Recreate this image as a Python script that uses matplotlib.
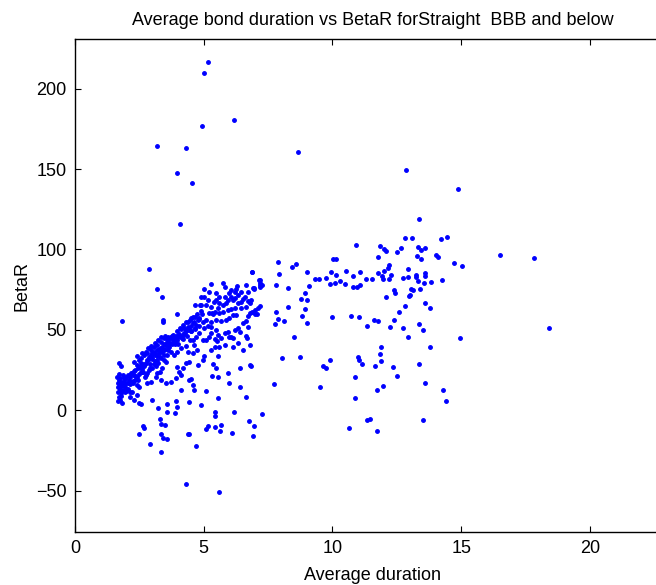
import numpy as np
import matplotlib.pyplot as plt

plt.rcParams['font.family'] = ['Liberation Sans', 'DejaVu Sans']

# dense band of short-duration bonds (duration, BetaR)
band_dur = [1.70, 1.79, 1.63, 1.70, 1.76, 1.74, 1.66, 1.83, 1.89, 1.96, 1.76, 1.67, 1.79, 1.70, 1.76, 1.83,
            1.87, 1.96, 2.02, 2.09, 2.00, 2.13, 2.22, 2.28, 2.15, 2.26, 2.35, 2.41, 2.48, 2.55, 2.61, 2.45,
            2.39, 2.31, 2.55, 2.68, 2.74, 2.81, 2.87, 2.94, 3.00, 3.07, 3.13, 3.20, 3.26, 3.33, 3.39, 3.46,
            3.53, 3.59, 3.65, 3.72, 3.79, 3.85, 3.92, 3.98, 4.05, 4.11, 4.18, 4.24, 4.31, 4.37, 4.44, 4.50,
            4.57, 4.63, 4.70, 4.76, 4.83, 4.66, 4.50, 4.40, 4.24, 4.11, 3.96, 3.79, 3.62, 3.46, 3.33, 3.20,
            3.07, 2.94, 2.81, 2.68, 2.57, 2.48, 2.41, 2.61, 2.74, 2.83, 2.96, 3.09, 3.22, 3.35, 3.49, 3.67,
            3.72, 3.59, 3.46, 3.35, 3.22, 3.13, 3.00, 2.87, 2.78, 2.70, 2.81, 2.94, 3.17, 3.30, 3.39, 3.53,
            3.85, 3.98, 4.11, 4.31, 4.45, 4.57, 4.70, 4.83, 3.96, 4.05, 4.18, 4.31, 4.44, 4.57, 4.74, 4.63,
            4.37, 4.11, 3.92, 3.72, 3.53, 3.33, 3.13, 2.39, 2.22, 2.48, 2.13, 1.96,
            1.72, 1.68, 1.80, 1.85, 1.90, 1.78, 1.69, 1.74, 1.82, 1.92, 2.05, 2.10, 2.20, 2.30, 2.35, 2.50,
            2.60, 2.65, 2.90, 3.00, 3.10, 3.20, 3.30, 3.45, 3.60, 3.75, 3.90, 4.00, 4.20, 4.35, 4.50, 4.65, 4.80,
            2.55, 2.62, 2.70, 2.76, 2.85, 2.92, 2.98, 3.05, 3.12, 3.18, 3.25, 3.30, 3.38, 3.44, 3.50, 3.56,
            3.62, 3.70, 3.78, 3.84, 3.90, 3.95, 4.02, 4.08, 4.14, 4.20, 4.26, 4.33, 4.40, 4.46, 4.52, 4.60,
            4.68, 4.75, 4.82, 4.88, 4.95, 2.00, 2.06, 2.12, 2.18, 2.24, 2.33, 2.44]
band_beta = [29.6, 27.5, 20.9, 18.8, 19.9, 16.7, 14.7, 15.6, 17.8, 19.2, 13.0, 11.5, 10.5, 8.5, 6.4, 4.7,
             12.6, 14.7, 16.7, 18.8, 20.9, 22.0, 23.3, 24.6, 20.5, 16.7, 18.8, 20.9, 22.5, 24.0, 25.4, 26.1,
             28.1, 30.2, 29.6, 27.5, 29.1, 31.2, 32.9, 34.3, 35.4, 36.4, 34.3, 37.5, 35.4, 38.5, 39.6, 37.5,
             40.5, 42.6, 44.5, 45.8, 43.7, 45.4, 46.1, 43.7, 47.4, 45.8, 46.7, 48.2, 49.9, 51.6, 50.3, 52.3,
             54.0, 55.1, 53.0, 56.1, 57.2, 57.8, 57.2, 55.1, 51.4, 50.3, 44.7, 46.7, 45.8, 44.7, 42.6, 40.5,
             39.6, 37.5, 35.8, 34.3, 32.3, 31.2, 33.8, 35.4, 36.4, 38.5, 39.9, 41.6, 43.7, 45.8, 46.1, 39.6,
             36.4, 34.3, 31.2, 32.3, 29.6, 27.5, 26.1, 25.0, 22.9, 20.9, 16.7, 17.8, 22.9, 24.0, 26.1, 30.2,
             34.3, 36.4, 38.5, 39.9, 43.7, 43.7, 45.8, 47.8, 27.1, 24.0, 26.1, 29.1, 30.2, 35.4, 37.5, 40.5,
             36.4, 22.0, 19.9, 17.8, 16.7, 18.8, 20.9, 15.6, 11.5, 14.7, 8.5, 11.5,
             22.7, 16.8, 14.9, 21.7, 15.8, 9.0, 6.0, 11.9, 17.8, 19.8, 12.9, 16.8, 17.8, 21.7, 24.7, 26.7,
             28.6, 23.7, 28.6, 31.6, 30.6, 33.6, 36.5, 34.5, 37.5, 41.4, 42.4, 41.4, 44.4, 46.3, 49.3, 50.3, 52.2,
             27.0, 24.0, 29.0, 22.0, 31.0, 26.0, 33.0, 29.0, 35.0, 31.0, 38.0, 33.0, 36.0, 41.0, 38.0, 44.0,
             40.0, 42.0, 46.0, 43.0, 41.0, 49.0, 46.0, 51.0, 45.0, 53.0, 48.0, 55.0, 50.0, 56.0, 49.0, 58.0,
             51.0, 60.0, 57.0, 62.0, 60.0, 12.0, 22.0, 16.0, 23.0, 18.0, 21.0, 19.0]

# upper band, durations 5 to 7
mid_dur = [4.90, 5.00, 5.03, 5.29, 5.74, 5.81, 6.07, 6.00, 6.20, 6.27, 6.33, 6.23, 6.14, 5.94, 5.87, 5.74,
           5.61, 5.48, 5.39, 5.29, 5.16, 5.09, 5.57, 5.42, 5.33, 5.22, 5.35, 5.61, 5.74, 5.94, 6.07, 6.20,
           6.33, 6.46, 6.53, 6.59, 6.72, 6.79, 6.66, 6.46, 6.27, 6.14, 6.00, 5.87, 5.68, 5.48, 5.29, 5.09,
           4.96, 5.03, 5.16, 5.29, 5.48, 5.55, 5.68, 5.81, 5.94, 6.07, 6.14, 6.20, 6.33, 6.53, 6.66, 6.72,
           6.79, 6.88, 6.98, 7.09, 7.18, 6.85, 6.72, 6.46, 6.31, 6.07, 5.81, 5.61, 5.48, 5.22, 4.90, 4.96,
           5.09, 5.22, 5.29, 5.42, 5.61, 5.81, 6.00, 6.14, 6.33, 4.96, 5.03, 5.29, 5.42, 5.52]
mid_beta = [65.4, 70.6, 75.2, 78.3, 79.3, 76.5, 74.8, 72.7, 73.8, 75.2, 71.7, 69.6, 68.6, 68.6, 66.5, 65.4,
            66.5, 68.6, 67.5, 64.4, 68.6, 65.4, 63.4, 61.3, 60.7, 60.3, 59.8, 60.7, 61.3, 62.4, 62.8, 63.4,
            66.5, 67.5, 69.0, 70.6, 68.2, 66.5, 64.4, 63.4, 59.2, 59.2, 57.2, 56.2, 55.7, 56.2, 55.1, 56.2,
            55.1, 51.0, 52.4, 52.0, 49.9, 46.8, 44.8, 47.8, 48.9, 45.4, 44.8, 49.9, 51.0, 54.0, 55.7, 58.3,
            60.3, 61.3, 62.4, 63.4, 64.8, 68.6, 73.8, 73.8, 77.2, 70.6, 70.6, 70.6, 72.7, 73.8, 70.6, 43.7,
            43.7, 45.4, 47.8, 44.1, 39.6, 40.5, 45.4, 39.6, 41.6, 31.3, 33.4, 37.5, 39.2, 43.3]

# scattered points, durations below 7.5
low_dur = [2.87, 3.20, 3.39, 1.83, 3.41, 3.41, 3.98, 4.67, 4.87, 2.28, 2.50, 3.00, 3.59, 3.92, 4.44, 4.11,
           3.56, 3.89, 3.98, 3.30, 3.36, 3.49, 2.65, 2.68, 2.50, 3.33, 3.43, 3.59, 4.40, 4.77, 4.44, 4.63,
           4.50, 4.57, 2.41, 2.15, 2.55, 4.70, 3.36, 2.90, 4.91, 3.21,
           6.88, 7.18, 7.25, 6.66, 6.96, 7.05, 6.72, 6.42, 6.66, 6.70, 6.79, 6.53, 5.57, 5.35, 5.48, 5.94,
           5.34, 5.55, 6.41, 6.83, 5.97, 6.40, 6.66, 5.57, 5.09, 5.42, 5.44, 6.17, 7.27, 6.75, 6.96, 6.92,
           6.11, 5.68, 5.42, 5.62, 5.16, 5.09, 4.41]
low_beta = [87.8, 75.2, 70.6, 55.5, 56.2, 54.7, 59.6, 65.6, 65.4, 6.3, 4.3, 6.3, 3.8, 5.7, 5.3, 12.6,
            -1.1, -1.6, 2.2, -5.5, -8.8, -9.2, -9.8, -10.9, -15.0, -14.8, -17.5, -18.1, -15.0, 28.1, 18.8, 12.6,
            19.4, 15.6, 9.4, 11.5, 3.6, -22.2, -25.8, -21.1, 3.0, 1.4,
            86.1, 81.0, 77.8, 77.8, 75.9, 59.8, 51.6, 48.4, 46.1, 44.7, 40.7, 37.5, 33.8, 28.7, 26.1, 22.9,
            21.3, 20.9, 26.1, 27.6, 16.7, 14.7, 8.4, 7.8, 12.1, -0.9, -3.6, -1.3, -2.6, -6.5, -9.6, -16.0,
            -14.0, -9.2, -10.2, -12.7, -9.6, -11.7, -14.8]

# longer durations
long_dur = [10.93, 11.84, 12.00, 12.06, 12.49, 12.65, 12.83, 13.10, 13.33, 13.42, 13.60, 13.30, 13.42, 14.04,
            14.10, 14.23, 14.43, 11.77, 12.20, 12.16, 12.00, 11.76, 11.93, 11.97, 12.18, 12.29, 12.93, 12.74,
            12.93, 13.23, 13.26, 13.59, 13.61, 13.54, 13.81, 13.33, 13.41, 13.05, 13.13, 13.00, 12.97, 14.24,
            12.38, 12.42, 12.07, 13.61, 13.79, 12.81, 12.59, 12.38, 12.23, 12.75, 12.92, 13.38, 13.50, 13.77,
            11.63, 11.77, 11.35, 10.71, 11.02, 10.00, 8.82, 8.93, 9.01, 8.76, 9.03, 8.95, 9.07, 9.03,
            9.32, 9.49, 9.74, 9.94, 10.13, 9.91, 10.08, 10.29, 10.51, 10.50, 10.03, 10.13, 10.80, 11.07,
            10.80, 10.96, 11.06, 11.31, 11.53, 7.89, 7.93, 7.81, 8.41, 8.57, 8.29, 7.15, 7.20, 7.18,
            7.20, 6.92, 6.86, 6.95, 7.82, 7.89, 8.10, 8.26, 7.75, 6.99, 8.49, 8.04, 8.72, 9.90,
            9.65, 9.74, 11.01, 11.02, 11.16, 11.90, 11.86, 11.90, 11.64, 12.34, 13.35, 12.50, 10.88, 7.72,
            9.53, 11.97, 11.73, 10.89, 13.58, 14.31, 14.39, 10.63, 11.35, 11.45, 11.72, 13.52, 6.79, 13.38,
            14.87, 14.73, 15.02, 16.52, 17.83, 14.96, 18.41]
long_beta = [102.7, 102.1, 100.1, 99.0, 98.2, 101.1, 107.0, 107.4, 101.6, 99.7, 101.1, 96.0, 94.3, 96.5,
             95.0, 106.5, 107.6, 95.5, 90.3, 88.3, 86.6, 85.5, 83.6, 81.6, 81.8, 83.9, 87.7, 82.1,
             83.0, 84.1, 82.7, 85.1, 83.6, 78.9, 79.9, 80.6, 75.2, 75.4, 74.6, 71.6, 70.8, 80.8,
             74.8, 72.7, 70.3, 66.8, 63.4, 65.0, 60.9, 56.1, 52.0, 51.0, 45.8, 53.8, 49.7, 39.5,
             56.3, 55.5, 52.2, 58.7, 57.9, 57.8, 58.5, 62.8, 54.4, 69.0, 68.7, 73.1, 77.4, 85.8,
             81.6, 81.6, 82.5, 85.8, 84.2, 78.3, 78.9, 80.6, 86.4, 78.3, 94.1, 93.9, 83.4, 85.8,
             76.5, 76.5, 78.0, 81.4, 81.4, 92.4, 84.7, 77.6, 88.9, 90.7, 76.2, 81.0, 78.9, 77.8,
             76.8, 76.2, 86.0, 75.4, 61.3, 56.7, 55.7, 64.0, 53.4, 59.6, 45.8, 32.7, 32.9, 31.2,
             27.6, 26.1, 32.9, 31.2, 28.7, 39.2, 34.9, 30.6, 27.6, 26.9, 28.9, 21.1, 20.9, 16.3,
             14.7, 15.2, 12.6, 7.4, 17.1, 12.6, 5.9, -11.3, -6.3, -5.5, -13.2, -6.3, 27.9, 118.7,
             137.8, 91.3, 89.8, 96.3, 94.7, 44.9, 51.3]

# outliers
out_dur = [5.17, 5.00, 6.16, 4.94, 8.68, 3.17, 3.96, 4.31, 4.54, 4.07, 12.85, 4.31, 5.60]
out_beta = [216.6, 209.7, 180.5, 176.9, 160.8, 164.3, 147.4, 163.0, 141.2, 115.7, 149.4, -45.9, -50.9]

dur = np.concatenate([band_dur, mid_dur, low_dur, long_dur, out_dur])
beta = np.concatenate([band_beta, mid_beta, low_beta, long_beta, out_beta])

fig = plt.figure(figsize=(6.56, 5.85), dpi=100)
ax = fig.add_axes([0.1143, 0.0911, 0.9067, 0.8417])
ax.plot(dur, beta, '.', color='#0000ff', markersize=5)

ax.set_xlim(0, 23.1)
ax.set_ylim(-75.6, 230.7)
ax.set_xticks([0, 5, 10, 15, 20])
ax.set_yticks([-50, 0, 50, 100, 150, 200])
ax.set_yticklabels(['\u221250', '0', '50', '100', '150', '200'])
ax.tick_params(direction='in', top=True, right=True, length=4.5, width=0.8, labelsize=13, pad=6)
for s in ax.spines.values():
    s.set_linewidth(1.0)

ax.set_title('Average bond duration vs BetaR forStraight  BBB and below', fontsize=13, pad=10)
ax.set_xlabel('Average duration', fontsize=13, labelpad=7)
ax.set_ylabel('BetaR', fontsize=13, labelpad=4)

fig.savefig('out.png', dpi=100)
